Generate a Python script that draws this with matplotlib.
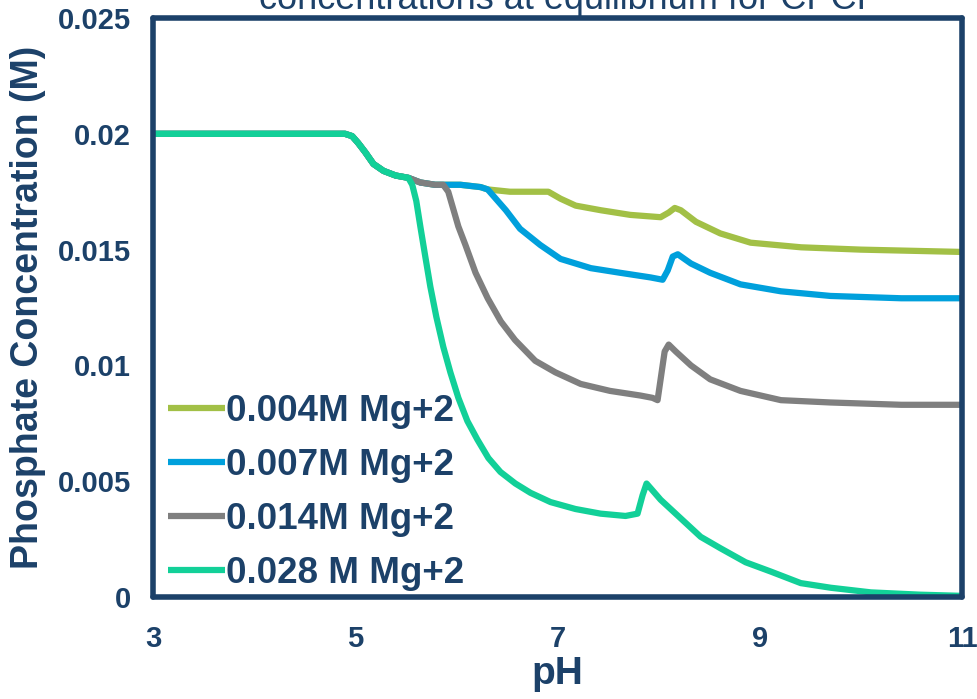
import matplotlib.pyplot as plt

plt.rcParams['font.family'] = ['Liberation Sans', 'DejaVu Sans']

navy = '#1c4169'

# shared start of every curve (pH 3 to ~5.5)
ph_start = [3.0, 4.0, 4.9, 4.97, 5.03, 5.1, 5.18, 5.28, 5.4, 5.525]
c_start = [0.02, 0.02, 0.02, 0.0199, 0.0196, 0.0192, 0.0187, 0.0184, 0.0182, 0.0181]

# 0.028 M Mg+2
ph_028 = ph_start + [5.564, 5.604, 5.644, 5.693, 5.743, 5.802, 5.871, 5.941, 6.02, 6.109,
                     6.208, 6.317, 6.436, 6.584, 6.733, 6.931, 7.178, 7.426, 7.673, 7.792,
                     7.842, 7.881, 7.921, 8.02, 8.218, 8.416, 8.614, 8.861, 9.109, 9.406,
                     9.703, 10.1, 10.59, 11.0]
c_028 = c_start + [0.0178, 0.0171, 0.0160, 0.0147, 0.0134, 0.0121, 0.0108, 0.0097, 0.0086,
                   0.0076, 0.0068, 0.0060, 0.0054, 0.0049, 0.0045, 0.0041, 0.0038, 0.0036,
                   0.0035, 0.0036, 0.0044, 0.0049, 0.0047, 0.0042, 0.0034, 0.0026, 0.0021,
                   0.0015, 0.0011, 0.0006, 0.0004, 0.0002, 0.0001, 0.00005]

# 0.014 M Mg+2
ph_014 = ph_start + [5.644, 5.79, 5.87, 5.92, 5.96, 6.02, 6.09, 6.19, 6.31, 6.44, 6.58,
                     6.78, 6.98, 7.23, 7.52, 7.82, 7.94, 7.99, 8.02, 8.06, 8.1, 8.17, 8.32,
                     8.51, 8.81, 9.21, 9.7, 10.4, 11.0]
c_014 = c_start + [0.0179, 0.0178, 0.0178, 0.0175, 0.0169, 0.0160, 0.0152, 0.0140, 0.0129,
                   0.0119, 0.0111, 0.0102, 0.0097, 0.0092, 0.0089, 0.0087, 0.0086, 0.0085,
                   0.0094, 0.0106, 0.0109, 0.0106, 0.0100, 0.0094, 0.0089, 0.0085, 0.0084,
                   0.0083, 0.0083]

# 0.007 M Mg+2
ph_007 = ph_start + [5.644, 5.79, 5.87, 6.04, 6.24, 6.31, 6.39, 6.49, 6.63, 6.83, 7.03,
                     7.33, 7.62, 7.92, 8.04, 8.09, 8.14, 8.19, 8.32, 8.51, 8.81, 9.21, 9.7,
                     10.4, 11.0]
c_007 = c_start + [0.0179, 0.0178, 0.0178, 0.0178, 0.0177, 0.0176, 0.0172, 0.0167, 0.0159,
                   0.0152, 0.0146, 0.0142, 0.0140, 0.0138, 0.0137, 0.0141, 0.0147, 0.0148,
                   0.0144, 0.0140, 0.0135, 0.0132, 0.0130, 0.0129, 0.0129]

# 0.004 M Mg+2
ph_004 = ph_start + [5.644, 5.79, 5.87, 6.04, 6.24, 6.31, 6.53, 6.83, 6.91, 7.03, 7.18,
                     7.43, 7.72, 8.02, 8.1, 8.16, 8.22, 8.37, 8.61, 8.91, 9.41, 10.0, 11.0]
c_004 = c_start + [0.0179, 0.0178, 0.0178, 0.0178, 0.0177, 0.0176, 0.0175, 0.0175, 0.0175,
                   0.0172, 0.0169, 0.0167, 0.0165, 0.0164, 0.0166, 0.0168, 0.0167, 0.0162,
                   0.0157, 0.0153, 0.0151, 0.0150, 0.0149]

labels = ['0.004M Mg+2', '0.007M Mg+2', '0.014M Mg+2', '0.028 M Mg+2']
colors = ['#a2c046', '#00a0dc', '#7f7f7f', '#12d098']

fig = plt.figure(figsize=(9.78, 6.99), dpi=100)
ax = fig.add_axes([0.1564, 0.1459, 0.8272, 0.8283])

series = [(ph_004, c_004), (ph_007, c_007), (ph_014, c_014), (ph_028, c_028)]
for (x, y), lab, col in zip(series, labels, colors):
    ax.plot(x, y, color=col, lw=4.5, label=lab, solid_capstyle='butt', solid_joinstyle='round')

ax.set_xlim(3, 11)
ax.set_ylim(0, 0.025)
ax.set_xticks([3, 5, 7, 9, 11])
ax.set_yticks([0, 0.005, 0.01, 0.015, 0.02, 0.025])
ax.set_yticklabels(['0', '0.005', '0.01', '0.015', '0.02', '0.025'])
ax.tick_params(length=0, labelsize=21, labelcolor=navy)
ax.tick_params(axis='y', pad=16)
ax.tick_params(axis='x', pad=20)
for t in ax.get_xticklabels() + ax.get_yticklabels():
    t.set_fontweight('bold')

for s in ax.spines.values():
    s.set_color(navy)
    s.set_linewidth(4)
    s.set_capstyle('round')

ax.set_xlabel('pH', fontsize=28, fontweight='bold', color=navy, labelpad=2)
ax.set_ylabel('Phosphate Concentration (M)', fontsize=27, fontweight='bold', color=navy, labelpad=8)

fig.text(0.583, 0.987, 'concentrations at equilibrium for CPCP', fontsize=26,
         color=navy, ha='center', va='baseline')

leg = ax.legend(loc='lower left', bbox_to_anchor=(0.018, 0.01), frameon=False,
                fontsize=26.5, handlelength=1.55, handletextpad=0.05, labelspacing=0.52,
                borderpad=0, borderaxespad=0)
for t in leg.get_texts():
    t.set_color(navy)
    t.set_fontweight('bold')

fig.savefig('out.png', dpi=100)
